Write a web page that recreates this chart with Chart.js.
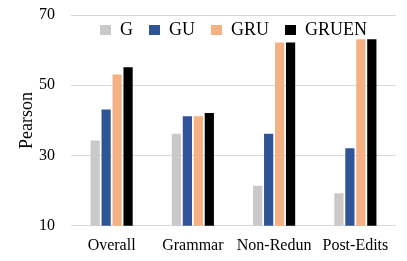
<!DOCTYPE html>
<html>
<head>
<meta charset="utf-8">
<script src="https://cdn.jsdelivr.net/npm/chart.js@4"></script>
<style>
    html, body { margin: 0; padding: 0; background: #ffffff; }
    #wrap { width: 407px; height: 261px; }
</style>
</head>
<body>
<div id="wrap"><canvas id="chart"></canvas></div>
<script>
// Data
const categories = ["Overall", "Grammar", "Non-Redun", "Post-Edits"];
const seriesG = [34.3, 36.2, 21.4, 19.3];
const seriesGU = [43.1, 41.2, 36.2, 32.1];
const seriesGRU = [53.1, 41.2, 62.2, 63.1];
const seriesGRUEN = [55.1, 42.1, 62.2, 63.1];
const yTicks = [10, 30, 50, 70];

const font = "'Liberation Serif', 'Times New Roman', serif";

// legend takes no room in the layout, then is drawn over the plot like the original
const overlayLegend = {
    id: "overlayLegend",
    beforeInit(chart) {
        const origFit = chart.legend.fit;
        chart.legend.fit = function () {
            origFit.bind(chart.legend)();
            this._realHeight = this.height;
            this.height = 0;
        };
    },
    beforeDraw(chart) {
        const lg = chart.legend;
        lg.top = 5;
        lg.height = lg._realHeight;
        lg.bottom = lg.top + lg.height;
    },
};

const bar = (label, data, color) => ({
    label: label,
    data: data,
    backgroundColor: color,
    borderWidth: 0,
    barPercentage: 0.84,
    categoryPercentage: 0.54,
});

new Chart(document.getElementById("chart"), {
    type: "bar",
    data: {
        labels: categories,
        datasets: [
            bar("G", seriesG, "#c9c9c9"),
            bar("GU", seriesGU, "#2f5597"),
            bar("GRU", seriesGRU, "#f4b183"),
            bar("GRUEN", seriesGRUEN, "#000000"),
        ],
    },
    options: {
        responsive: true,
        maintainAspectRatio: false,
        animation: false,
        layout: {
            padding: { top: 15, right: 11, bottom: -4, left: 16 },
        },
        scales: {
            x: {
                grid: { display: false, drawTicks: false },
                border: { display: false },
                ticks: {
                    color: "#000000",
                    font: { family: font, size: 16 },
                    padding: 10,
                    maxRotation: 0,
                    autoSkip: false,
                },
            },
            y: {
                min: 10,
                max: 70,
                afterBuildTicks: (axis) => {
                    axis.ticks = yTicks.map((v) => ({ value: v }));
                },
                afterFit: (axis) => {
                    axis.width = 55;
                    axis.paddingTop = 0;
                    axis.paddingBottom = 0;
                },
                grid: { color: "#d9d9d9", lineWidth: 1, drawTicks: false },
                border: { display: false },
                ticks: {
                    color: "#000000",
                    font: { family: font, size: 16 },
                    padding: 16,
                },
                title: {
                    display: true,
                    text: "Pearson",
                    color: "#000000",
                    font: { family: font, size: 18 },
                    padding: 0,
                },
            },
        },
        plugins: {
            legend: {
                display: true,
                position: "top",
                fullSize: false,
                labels: {
                    color: "#000000",
                    font: { family: font, size: 18 },
                    boxWidth: 11,
                    boxHeight: 10,
                    padding: 16,
                },
            },
            tooltip: { enabled: false },
        },
    },
    plugins: [overlayLegend],
});
</script>
</body>
</html>
